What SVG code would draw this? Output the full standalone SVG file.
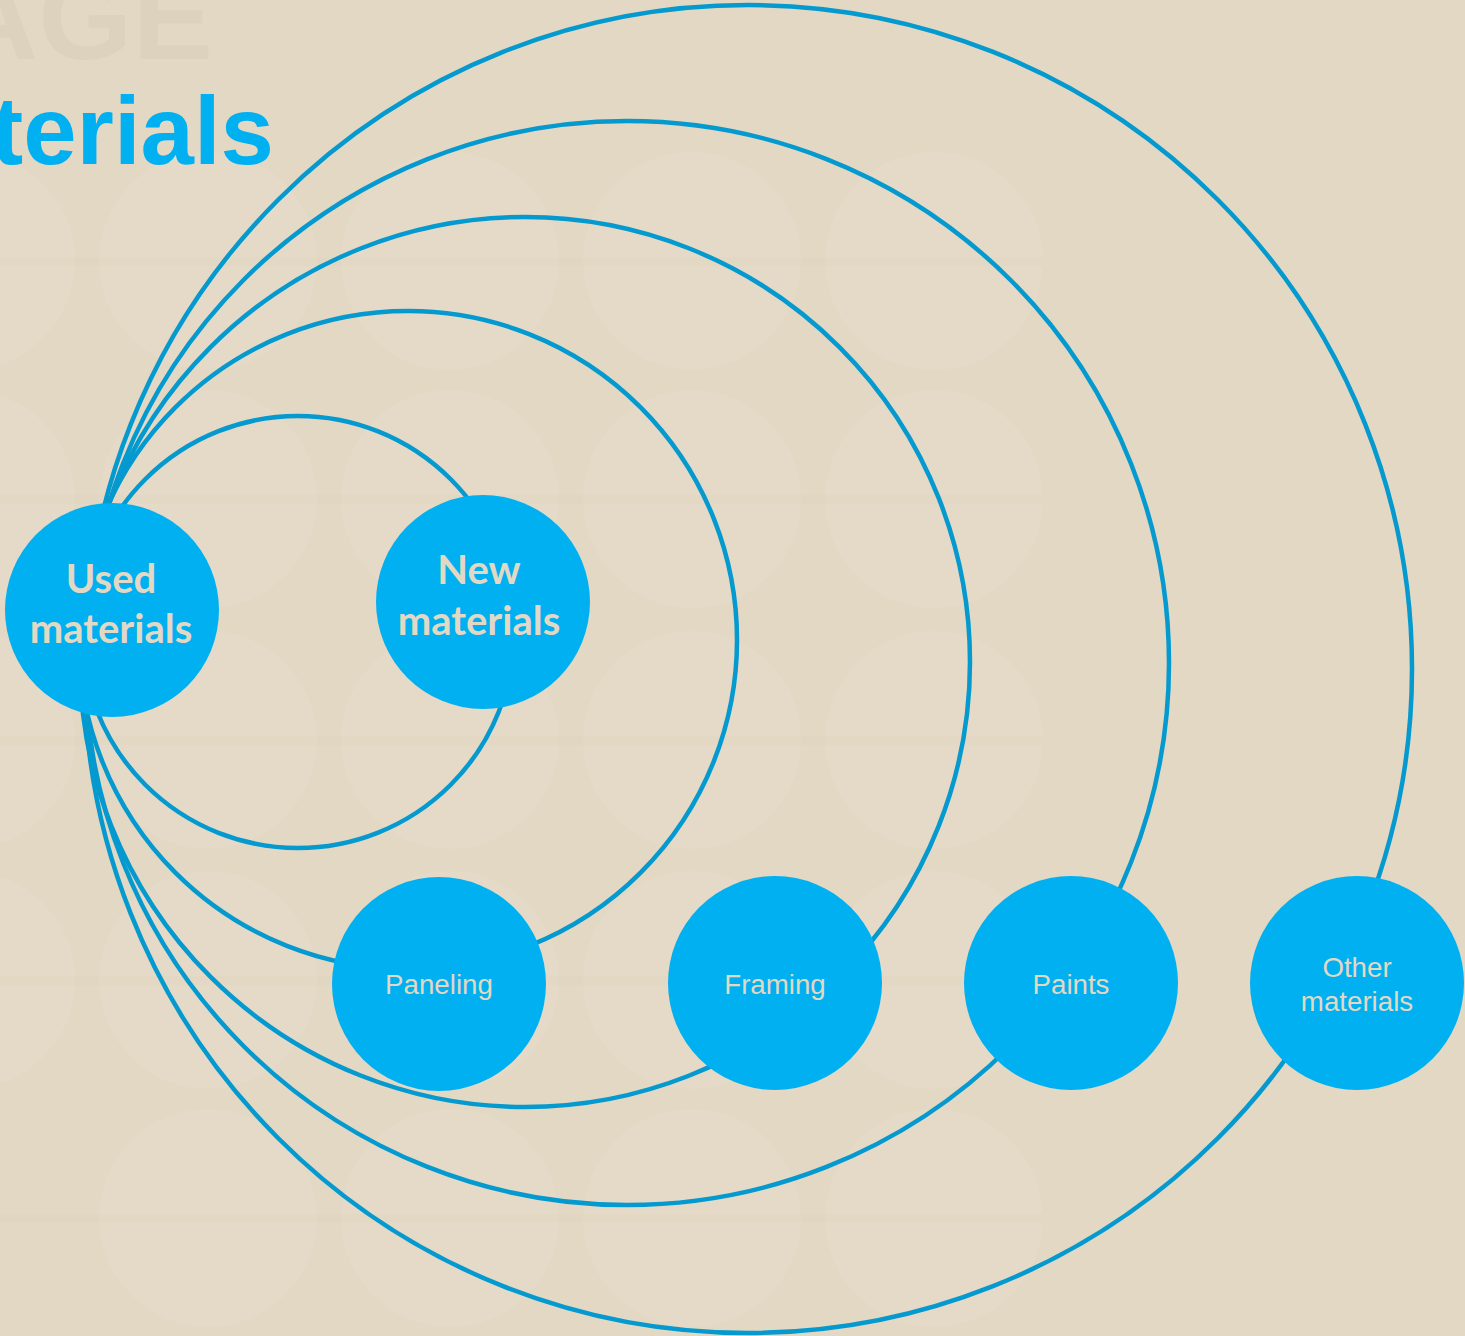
<svg xmlns="http://www.w3.org/2000/svg" width="1465" height="1336" viewBox="0 0 1465 1336">
<style>
.bgc{fill:#e4dac7}
.band{fill:#dfd4bf;opacity:0.35}
.link{fill:none;stroke:#0499cf;stroke-width:4.5}
.node{fill:#00b0f0}
.big{font-family:Lato,"Open Sans","Liberation Sans",sans-serif;font-weight:bold;font-size:40px;fill:#e2d8c4;text-anchor:middle}
.small{font-family:"Liberation Sans",Arial,sans-serif;font-size:27.7px;fill:#e2d8c4;text-anchor:middle}
</style>
<rect width="1465" height="1336" fill="#e2d8c4"/>
<g id="background-pattern">
<circle class="bgc" cx="-34" cy="261" r="109"/><circle class="bgc" cx="208" cy="261" r="109"/><circle class="bgc" cx="450" cy="261" r="109"/><circle class="bgc" cx="692" cy="261" r="109"/><circle class="bgc" cx="934" cy="261" r="109"/>
<circle class="bgc" cx="-34" cy="499" r="109"/><circle class="bgc" cx="208" cy="499" r="109"/><circle class="bgc" cx="450" cy="499" r="109"/><circle class="bgc" cx="692" cy="499" r="109"/><circle class="bgc" cx="934" cy="499" r="109"/>
<circle class="bgc" cx="-34" cy="740" r="109"/><circle class="bgc" cx="208" cy="740" r="109"/><circle class="bgc" cx="450" cy="740" r="109"/><circle class="bgc" cx="692" cy="740" r="109"/><circle class="bgc" cx="934" cy="740" r="109"/>
<circle class="bgc" cx="-34" cy="980" r="109"/><circle class="bgc" cx="208" cy="980" r="109"/><circle class="bgc" cx="450" cy="980" r="109"/><circle class="bgc" cx="692" cy="980" r="109"/><circle class="bgc" cx="934" cy="980" r="109"/>
<circle class="bgc" cx="208" cy="1218" r="109"/><circle class="bgc" cx="450" cy="1218" r="109"/><circle class="bgc" cx="692" cy="1218" r="109"/><circle class="bgc" cx="934" cy="1218" r="109"/>
<rect class="band" x="0" y="257" width="1043" height="9"/>
<rect class="band" x="0" y="495" width="1043" height="9"/>
<rect class="band" x="0" y="736" width="1043" height="9"/>
<rect class="band" x="0" y="976" width="1043" height="9"/>
<rect class="band" x="0" y="1214" width="1043" height="9"/>
</g>
<g id="title">
<text x="213" y="59" font-family="'Liberation Sans',Arial,sans-serif" font-weight="bold" font-size="121" fill="#ddd2bd" text-anchor="end">AGE</text>
<text x="274" y="164" font-family="'Liberation Sans',Arial,sans-serif" font-weight="bold" font-size="96" fill="#00b0f0" text-anchor="end">terials</text>
</g>
<g id="connectors">
<circle class="link" cx="298" cy="632" r="216"/>
<circle class="link" cx="408" cy="640" r="329"/>
<circle class="link" cx="525" cy="662" r="445"/>
<circle class="link" cx="627" cy="663" r="542"/>
<circle class="link" cx="748" cy="669" r="664"/>
</g>
<g id="node-used"><circle class="node" cx="112" cy="610" r="107"/><text class="big" x="111" y="593">Used</text><text class="big" x="111" y="643">materials</text></g>
<g id="node-new"><circle class="node" cx="483" cy="602" r="107"/><text class="big" x="479" y="584">New</text><text class="big" x="479" y="635">materials</text></g>
<g id="node-paneling"><circle class="node" cx="439" cy="984" r="107"/><text class="small" x="439" y="994">Paneling</text></g>
<g id="node-framing"><circle class="node" cx="775" cy="983" r="107"/><text class="small" x="775" y="994">Framing</text></g>
<g id="node-paints"><circle class="node" cx="1071" cy="983" r="107"/><text class="small" x="1071" y="994">Paints</text></g>
<g id="node-other"><circle class="node" cx="1357" cy="983" r="107"/><text class="small" x="1357" y="977">Other</text><text class="small" x="1357" y="1011">materials</text></g>
</svg>
